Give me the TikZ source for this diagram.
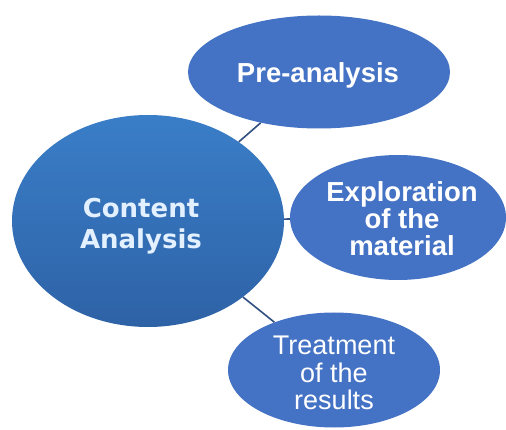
\documentclass[tikz,border=0pt]{standalone}
\usepackage{fontspec}
\setmainfont{Liberation Sans}
\newfontfamily\mainlabel{DejaVu Sans}
\usetikzlibrary{shapes.geometric}
\definecolor{bubble}{HTML}{4472C4}
\definecolor{maintop}{HTML}{3A7EC8}
\definecolor{mainbot}{HTML}{2E62A6}
\definecolor{linkc}{HTML}{2F4F80}
\definecolor{maintext}{HTML}{E2F0FF}
\begin{document}
\begin{tikzpicture}[x=1pt,y=-1pt,
  bub/.style={ellipse, fill=bubble, draw=none, inner sep=0pt, text=white, align=center},
  link/.style={draw=linkc, line width=1.6pt}]
\useasboundingbox (0,0) rectangle (506,430);
\node[ellipse, inner sep=0pt, top color=maintop, bottom color=mainbot, draw=none,
      minimum width=272pt, minimum height=212pt] (main) at (148,221) {};
\node[bub, minimum width=262pt, minimum height=113pt] (pre) at (319,72) {};
\node[bub, minimum width=216pt, minimum height=125pt] (expl) at (398,217.5) {};
\node[bub, minimum width=212pt, minimum height=115pt] (treat) at (334,370) {};
\draw[link] (main) -- (pre);
\draw[link] (main) -- (expl);
\draw[link] (main) -- (treat);
\node[text=maintext, align=center, font=\mainlabel\bfseries\fontsize{26}{31}\selectfont] (maint) at (141,226) {Content\\Analysis};
\node[text=white, font=\bfseries\fontsize{27.5}{28}\selectfont] (pret) at (318,75) {Pre-analysis};
\node[text=white, align=center, font=\bfseries\fontsize{27.5}{27}\selectfont] (explt) at (402,219) {Exploration\\of the\\material};
\node[text=white, align=center, font=\fontsize{27}{27.7}\selectfont] (treatt) at (334,373) {Treatment\\of the\\results};
\end{tikzpicture}
\end{document}
